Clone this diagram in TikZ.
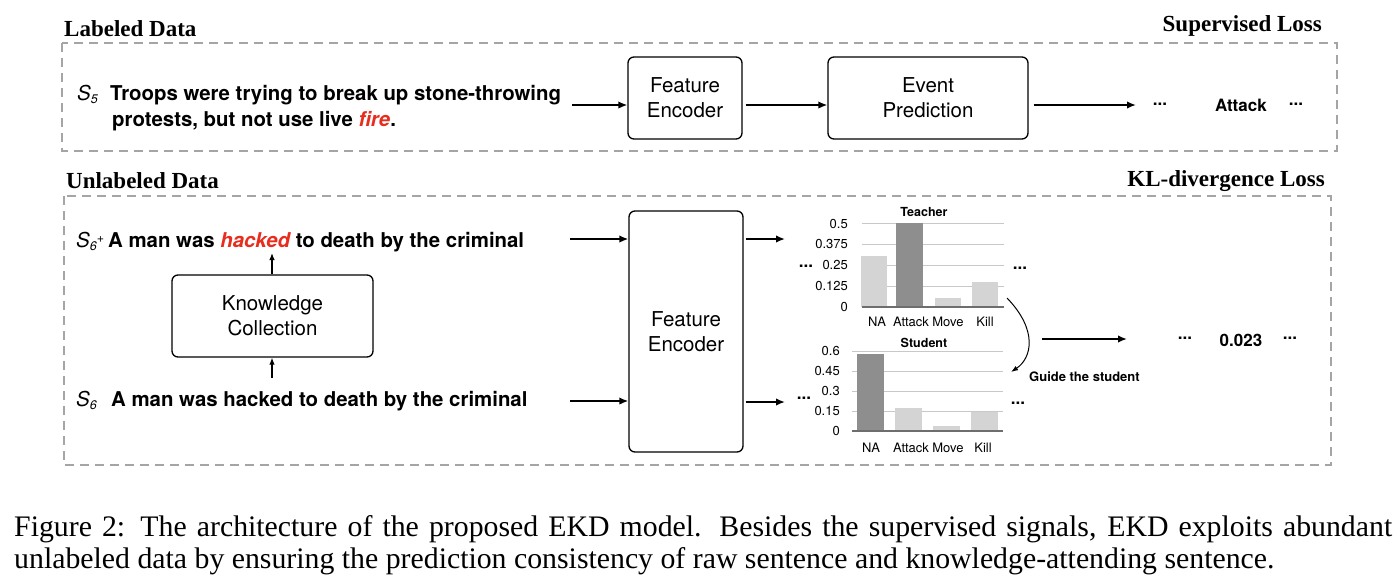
\documentclass[tikz,border=0pt]{standalone}
\usepackage{fontspec}
\setmainfont{Liberation Serif}
\setsansfont{TeX Gyre Heros}
\usetikzlibrary{arrows.meta}
\definecolor{kred}{RGB}{232,45,30}
\definecolor{framegray}{RGB}{165,165,165}
\definecolor{barlight}{RGB}{212,212,212}
\definecolor{bardark}{RGB}{142,142,142}
\definecolor{gridgray}{RGB}{200,200,200}
\definecolor{axisgray}{RGB}{110,110,110}
\newcommand\fs[2]{\fontsize{#1}{#2}\selectfont}
\newcommand\subl[1]{\raisebox{-3pt}{\fs{12.5}{12.5}#1}}
\newcommand\supl[1]{\raisebox{5pt}{\fs{12.5}{12.5}#1}}
\begin{document}
\begin{tikzpicture}[x=1pt,y=-1pt,
  framebox/.style={draw=framegray, line width=1.3pt, dash pattern=on 9pt off 6pt},
  procbox/.style={draw, line width=1.3pt, rounded corners=6pt, font=\sffamily\fs{20.5}{25}, align=center, inner sep=0pt},
  arr/.style={-{Latex[length=9pt,width=7.5pt]}, line width=1.7pt},
  thinarr/.style={-{Latex[length=7pt,width=5.5pt]}, line width=1.2pt},
  sent/.style={font=\sffamily\bfseries\fs{20.4}{24}, anchor=base west, inner sep=0pt},
  slab/.style={font=\sffamily\itshape\fs{20.5}{24}, anchor=base west, inner sep=0pt},
  head/.style={font=\bfseries\fs{23}{27}, inner sep=0pt},
  outtxt/.style={font=\sffamily\bfseries\fs{17}{20}, inner sep=0pt},
  tick/.style={font=\sffamily\fs{13}{15}, inner sep=0pt},
  ctitle/.style={font=\sffamily\bfseries\fs{12.5}{15}, inner sep=0pt},
  gridline/.style={draw=gridgray, line width=1pt},
  axisline/.style={draw=axisgray, line width=1.3pt},
  lightbar/.style={fill=barlight, draw=none},
  darkbar/.style={fill=bardark, draw=none}
]
\useasboundingbox (0,0) rectangle (1395,582);

% frames
\draw[framebox] (62,43) rectangle (1337,151);
\draw[framebox] (64,196) rectangle (1331,465);

% headings
\node[head, anchor=base west] (hl) at (64,36) {Labeled Data};
\node[head, anchor=base east] (hs) at (1322,31) {Supervised Loss};
\node[head, anchor=base west] (hu) at (66,188) {Unlabeled Data};
\node[head, anchor=base east] (hk) at (1325,186) {KL-divergence Loss};

% labeled row
\node[slab] (s5) at (77,100) {S\subl{5}};
\node[sent] (t5a) at (110,100) {Troops were trying to break up stone-throwing};
\node[sent] (t5b) at (112,126) {protests, but not use live \textcolor{kred}{\itshape fire}.};
\node[procbox, minimum width=114pt, minimum height=82pt] (fe1) at (685,98) {Feature\\Encoder};
\node[procbox, minimum width=200pt, minimum height=82pt] (ep) at (928,98) {Event\\Prediction};
\coordinate (s5out) at (572,105);
\coordinate (o1) at (1136,105);
\draw[arr] (s5out) -- (fe1.west |- s5out);
\draw[arr, shorten <=3pt] (fe1.east |- s5out) -- (ep.west |- s5out);
\draw[arr, shorten <=5pt] (ep.east |- s5out) -- (o1);
\node[outtxt] (d1) at (1160,104) {...};
\node[outtxt] (att) at (1241,105) {Attack};
\node[outtxt] (d2) at (1296,104) {...};

% unlabeled row
\node[slab] (s6p) at (76,247) {S\subl{6}\supl{+}};
\node[sent] (t6p) at (108,247) {A man was \textcolor{kred}{\itshape hacked} to death by the criminal};
\node[slab] (s6) at (76,406) {S\subl{6}};
\node[sent] (t6) at (111,406) {A man was hacked to death by the criminal};
\node[procbox, minimum width=201pt, minimum height=82pt] (kc) at (272.5,316) {Knowledge\\Collection};
\coordinate (kcin) at (272,378);
\coordinate (kcout) at (272,253);
\draw[thinarr] (kcin) -- (kc.south -| kcin);
\draw[thinarr] (kc.north -| kcout) -- (kcout);
\node[procbox, minimum width=114pt, minimum height=241pt] (fe2) at (686,331.5) {Feature\\Encoder};
\coordinate (a1) at (570,239);
\coordinate (a2) at (570,401);
\coordinate (b1) at (785,239);
\coordinate (b2) at (785,402);
\draw[arr] (a1) -- (fe2.west |- a1);
\draw[arr] (a2) -- (fe2.west |- a2);
\draw[arr, shorten <=2pt] (fe2.east |- b1) -- (b1);
\draw[arr, shorten <=2pt] (fe2.east |- b2) -- (b2);

% teacher chart
\foreach \yy in {223,244,265,286} \draw[gridline] (862,\yy) -- (1004,\yy);
\fill[lightbar] (861,256) rectangle (887,307);
\fill[darkbar] (896,223) rectangle (923,307);
\fill[lightbar] (935,298) rectangle (961,307);
\fill[lightbar] (972,282) rectangle (998,307);
\draw[axisline] (862,307) -- (1004,307);
\node[tick, anchor=east] (ty1) at (848,224) {0.5};
\node[tick, anchor=east] (ty2) at (848,244) {0.375};
\node[tick, anchor=east] (ty3) at (848,265) {0.25};
\node[tick, anchor=east] (ty4) at (848,286) {0.125};
\node[tick, anchor=east] (ty5) at (848,307) {0};
\node[tick] (tx1) at (877,322) {NA};
\node[tick] (tx2) at (911,322) {Attack};
\node[tick] (tx3) at (948,322) {Move};
\node[tick] (tx4) at (985,322) {Kill};
\node[ctitle] (tt) at (924,212) {Teacher};
\node[outtxt] (td1) at (806,266) {...};
\node[outtxt] (td2) at (1020,268) {...};

% student chart
\foreach \yy in {351,371,391,411} \draw[gridline] (852,\yy) -- (1003,\yy);
\fill[darkbar] (857,354) rectangle (884,431);
\fill[lightbar] (895,408) rectangle (922,431);
\fill[lightbar] (933,426) rectangle (960,431);
\fill[lightbar] (971,412) rectangle (998,431);
\draw[axisline] (852,431) -- (1003,431);
\node[tick, anchor=east] (sy1) at (840,351) {0.6};
\node[tick, anchor=east] (sy2) at (840,371) {0.45};
\node[tick, anchor=east] (sy3) at (840,391) {0.3};
\node[tick, anchor=east] (sy4) at (840,411) {0.15};
\node[tick, anchor=east] (sy5) at (840,431) {0};
\node[tick] (sx1) at (871,448) {NA};
\node[tick] (sx2) at (911,448) {Attack};
\node[tick] (sx3) at (948,448) {Move};
\node[tick] (sx4) at (983,448) {Kill};
\node[ctitle] (st) at (924,343) {Student};
\node[outtxt] (sd1) at (804,398) {...};
\node[outtxt] (sd2) at (1018,403) {...};

% guide arrow
\coordinate (g1) at (1007,298);
\coordinate (g2) at (1011,372);
\draw[-{Latex[length=7pt,width=5pt]}, line width=1pt] (g1) .. controls (1038,330) and (1032,358) .. (g2);
\node[ctitle, font=\sffamily\bfseries\fs{13}{15}, anchor=west] (gs) at (1029,377) {Guide the student};

% KL output
\coordinate (k1) at (1042,339);
\coordinate (k2) at (1127,339);
\draw[arr] (k1) -- (k2);
\node[outtxt] (kd1) at (1185,338) {...};
\node[outtxt] (kv) at (1241,340) {0.023};
\node[outtxt] (kd2) at (1290,338) {...};

% caption
\node[anchor=north west, text width=1378pt, align=justify, inner sep=0pt, font=\fs{29.8}{32.5}] (cap) at (14,515)
{Figure 2: The architecture of the proposed EKD model. Besides the supervised signals, EKD exploits abundant\linebreak unlabeled data by ensuring the prediction consistency of raw sentence and knowledge-attending sentence.};
\end{tikzpicture}
\end{document}
